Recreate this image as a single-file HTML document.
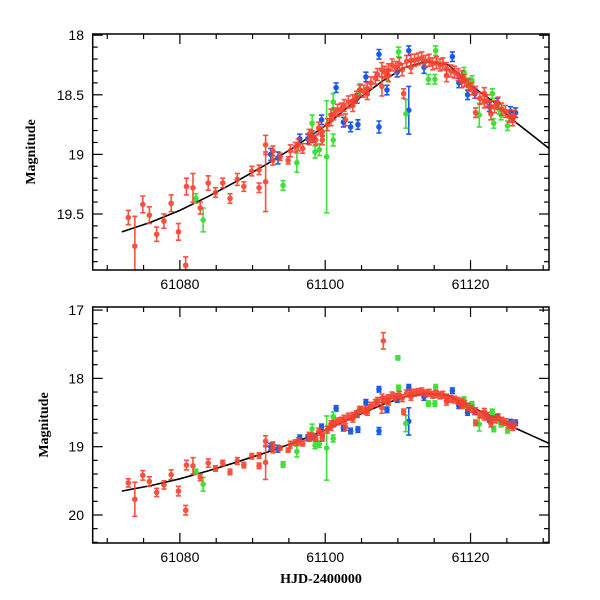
<!DOCTYPE html>
<html><head><meta charset="utf-8"><style>
html,body{margin:0;padding:0;background:#fff;}
svg{display:block;}
</style></head><body>
<svg id="chart" width="600" height="600" viewBox="0 0 600 600" xmlns="http://www.w3.org/2000/svg"></svg>
<script>
const redDays=[61072.9,61073.8,61074.9,61075.8,61076.8,61077.8,61078.8,61079.8,61080.8,61080.9,61081.8,61082.8,61083.9,61084.9,61085.9,61086.9,61087.9,61088.8,61089.9,61090.9,61090.9,61091.8,61091.8,61092.8,61092.8,61093.8,61094.9,61095.9,61096.9,61097.8,61097.8,61098.7,61099.6,61099.6,61100.8,61100.8,61101.7,61102.8,61102.6,61103.8,61103.8,61104.8,61105.8,61105.8,61106.9,61107.8,61107.8,61108.7,61108.7,61109.7,61110.6,61110.8,61111.8,61111.8,61112.8,61113.8,61114.8,61115.8,61116.7,61116.7,61117.8,61118.8,61118.8,61119.7,61120.7,61120.7,61121.9,61121.9,61122.8,61122.8,61123.8,61124.8,61125.8,61108.0,
61095.2,61096.3,61098.2,61099.1,61100.3,61101.2,61102.2,61103.2,61104.3,61105.3,61106.3,61107.2,61108.2,61109.2,61110.2,61111.2,61112.3,61113.3,61114.3,61115.3,61116.2,61117.3,61118.3,61119.2,61120.2,61121.3,61122.3,61123.3,61124.3,61125.3,61126.0];
const redMags=[19.53,19.77,19.42,19.51,19.67,19.56,19.41,19.65,19.93,19.27,19.28,19.45,19.24,19.32,19.24,19.37,19.21,19.27,19.14,19.13,19.28,18.92,19.23,18.97,19.05,19.02,19.05,18.94,18.95,18.88,18.83,18.88,18.88,18.81,18.71,18.67,18.63,18.71,18.59,18.59,18.55,18.46,18.49,18.45,18.36,18.43,18.29,18.34,18.29,18.27,18.29,18.49,18.21,18.27,18.20,18.22,18.24,18.25,18.28,18.34,18.31,18.35,18.39,18.42,18.48,18.65,18.49,18.56,18.60,18.66,18.57,18.64,18.71,17.45,
18.97,18.92,18.85,18.78,18.75,18.66,18.62,18.56,18.52,18.47,18.40,18.33,18.31,18.25,18.24,18.22,18.21,18.19,18.21,18.23,18.24,18.30,18.33,18.38,18.45,18.53,18.55,18.60,18.62,18.68,18.68];
const redErrs=[0.06,0.25,0.07,0.07,0.06,0.06,0.07,0.07,0.07,0.07,0.12,0.05,0.06,0.04,0.04,0.04,0.05,0.04,0.04,0.04,0.04,0.08,0.25,0.04,0.04,0.03,0.03,0.04,0.04,0.04,0.04,0.04,0.04,0.04,0.05,0.05,0.05,0.05,0.05,0.05,0.05,0.05,0.05,0.05,0.05,0.08,0.06,0.05,0.05,0.05,0.05,0.04,0.05,0.05,0.05,0.05,0.05,0.05,0.05,0.05,0.05,0.05,0.05,0.05,0.05,0.04,0.05,0.05,0.05,0.05,0.05,0.05,0.05,0.12,
0.05,0.05,0.05,0.05,0.05,0.05,0.05,0.05,0.05,0.05,0.05,0.05,0.05,0.05,0.05,0.05,0.05,0.05,0.05,0.05,0.05,0.05,0.05,0.05,0.05,0.05,0.05,0.05,0.05,0.05,0.05];
const greenDays=[61082.2,61083.2,61094.2,61096.1,61098.2,61098.6,61099.2,61100.2,61101.1,61101.1,61104.7,61108.6,61110.1,61110.0,61111.1,61114.2,61115.1,61115.2,61119.1,61119.7,61120.2,61121.2,61123.0,61123.2,61123.9,61124.2,61125.1];
const greenMags=[19.37,19.55,19.26,19.07,18.74,18.98,18.96,19.02,18.56,18.88,18.46,18.34,18.14,17.70,18.66,18.37,18.37,18.13,18.31,18.40,18.38,18.67,18.49,18.74,18.62,18.67,18.76];
const greenErrs=[0.04,0.1,0.04,0.08,0.07,0.05,0.05,0.47,0.07,0.05,0.04,0.04,0.04,0.03,0.12,0.04,0.04,0.04,0.04,0.04,0.04,0.1,0.04,0.04,0.04,0.04,0.04];
const blueDays=[61092.5,61093.5,61096.5,61097.6,61098.4,61099.5,61101.5,61102.5,61103.5,61104.4,61104.5,61105.6,61107.4,61107.4,61108.5,61109.9,61111.5,61111.5,61113.6,61117.5,61118.4,61119.6,61120.6,61122.6,61123.7,61125.5,61126.2];
const blueMags=[19.00,19.03,18.87,18.87,18.86,18.71,18.44,18.73,18.77,18.53,18.75,18.35,18.16,18.77,18.46,18.31,18.13,18.63,18.27,18.18,18.40,18.50,18.49,18.60,18.57,18.64,18.65];
const blueErrs=[0.05,0.05,0.04,0.04,0.04,0.04,0.04,0.04,0.04,0.04,0.04,0.04,0.04,0.05,0.04,0.04,0.04,0.2,0.05,0.04,0.04,0.04,0.04,0.04,0.04,0.04,0.04];
const curveDays=[61072,61076,61080,61084,61088,61092,61096,61100,61104,61108,61111,61114,61117,61120,61123,61126,61128.5,61131];
const curveMags=[19.65,19.57,19.47,19.35,19.22,19.08,18.93,18.76,18.56,18.38,18.27,18.22,18.25,18.42,18.55,18.72,18.84,18.96];
const xTicks=[61080,61100,61120];
const topTicks=[18,18.5,19,19.5];
const botTicks=[17,18,19,20];

const NS='http://www.w3.org/2000/svg';
const svg=document.getElementById('chart');
function mk(tag,attrs,parent){const e=document.createElementNS(NS,tag);for(const k in attrs)e.setAttribute(k,attrs[k]);(parent||svg).appendChild(e);return e;}
const X0=92.7,X1=549,D0=61068.0,D1=61130.8;
function xs(d){return X0+(d-D0)*(X1-X0)/(D1-D0);}

const panels=[
 {name:'top',y0:34,y1:270,m0:17.99,m1:19.97,major:0.5,minor:0.1,ticks:topTicks,labelX:35,title:'Magnitude'},
 {name:'bottom',y0:307,y1:543,m0:16.955,m1:20.41,major:1,minor:0.2,ticks:botTicks,labelX:48,title:'Magnitude'}
];
panels.forEach((p,pi)=>{
 const ys=m=>p.y0+(m-p.m0)*(p.y1-p.y0)/(p.m1-p.m0);
 const g=mk('g',{});
 
 
 const clipId='clip'+pi;
 const cp=mk('clipPath',{id:clipId},g);
 mk('rect',{x:X0,y:p.y0,width:X1-X0,height:p.y1-p.y0},cp);
 const plot=mk('g',{'clip-path':'url(#'+clipId+')'},g);
 
 
 let dstr='';
 curveDays.forEach((d,i)=>{dstr+=(i?'L':'M')+xs(d).toFixed(1)+','+ys(curveMags[i]).toFixed(1);});
 const cv=mk('path',{d:dstr,fill:'none',stroke:'#000','stroke-width':1.6},plot);
 
 
 const series=[
  ['blue',blueDays,blueMags,blueErrs,'#1a5ce6'],
  ['green',greenDays,greenMags,greenErrs,'#3fe03a'],
  ['red',redDays,redMags,redErrs,'#f5402c']];
 series.forEach(s=>{
  const sg=mk('g',{},plot);
  
  
  s[1].forEach((d,i)=>{
   const x=xs(d),y=ys(s[2][i]),ya=ys(s[2][i]-s[3][i]),yb=ys(s[2][i]+s[3][i]);
   const pg=mk('g',{stroke:s[4],'stroke-width':1.6,fill:s[4],opacity:s[0]==='red'?0.9:1},sg);
   
   
   mk('line',{x1:x,x2:x,y1:ya,y2:yb},pg);
   mk('line',{x1:x-2.6,x2:x+2.6,y1:ya,y2:ya},pg);
   mk('line',{x1:x-2.6,x2:x+2.6,y1:yb,y2:yb},pg);
   mk('circle',{cx:x,cy:y,r:2.8,stroke:'none'},pg);
  });
 });
 const fr=mk('rect',{x:X0,y:p.y0,width:X1-X0,height:p.y1-p.y0,fill:'none',stroke:'#000','stroke-width':1.5},g);
 
 
 for(let d=61070;d<=D1;d+=5){
  const x=xs(d),L=(d%20===0)?10:5;
  mk('line',{x1:x,x2:x,y1:p.y1,y2:p.y1-L,stroke:'#000','stroke-width':1.2},g);
  mk('line',{x1:x,x2:x,y1:p.y0,y2:p.y0+L,stroke:'#000','stroke-width':1.2},g);
 }
 const nStart=Math.ceil(p.m0/p.minor-1e-6);
 for(let k=nStart;k*p.minor<=p.m1+1e-6;k++){
  const m=k*p.minor;const y=ys(m);
  const isMaj=Math.abs(m/p.major-Math.round(m/p.major))<1e-6;
  const L=isMaj?10:5;
  mk('line',{x1:X0,x2:X0+L,y1:y,y2:y,stroke:'#000','stroke-width':1.2},g);
  mk('line',{x1:X1,x2:X1-L,y1:y,y2:y,stroke:'#000','stroke-width':1.2},g);
 }
 p.ticks.forEach(t=>{
  const tl=mk('text',{x:84,y:ys(t)+5,'text-anchor':'end','font-family':'Liberation Sans, sans-serif','font-size':14},g);
  
  
  tl.textContent=String(t);
 });
 xTicks.forEach(t=>{
  const tl=mk('text',{x:xs(t),y:p.y1+19,'text-anchor':'middle','font-family':'Liberation Sans, sans-serif','font-size':14},g);
  
  
  tl.textContent=String(t);
 });
 const cy=(p.y0+p.y1)/2;
 const yt=mk('text',{x:p.labelX,y:cy,'text-anchor':'middle','font-family':'Liberation Serif, serif','font-weight':'bold','font-size':14,transform:'rotate(-90 '+p.labelX+' '+cy+')'},g);
 
 
 yt.textContent=p.title;
});
const xt=mk('text',{x:321,y:583,'text-anchor':'middle','font-family':'Liberation Serif, serif','font-weight':'bold','font-size':14});


xt.textContent='HJD-2400000';
</script>
</body></html>
